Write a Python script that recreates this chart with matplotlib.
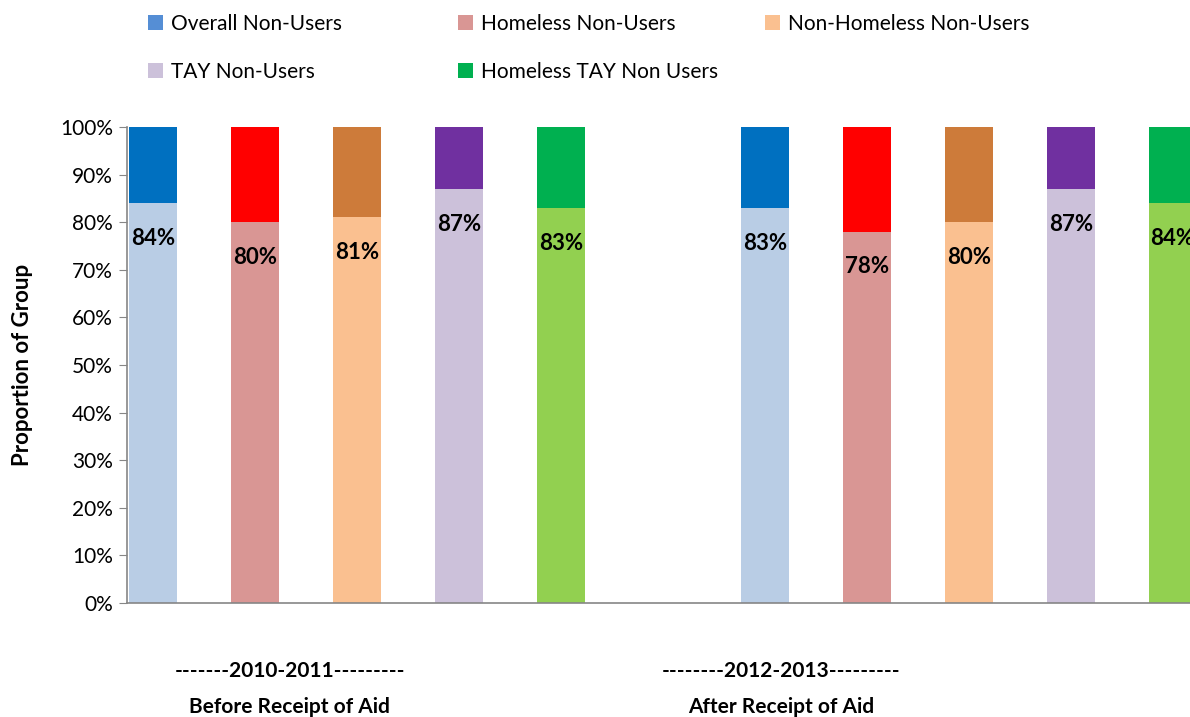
import numpy as np
import matplotlib.pyplot as plt
from matplotlib.patches import Patch

plt.rcParams['font.family'] = ['Lato', 'DejaVu Sans']

# Share of each group that were non-users, per period
groups = ['Overall Non-Users', 'Homeless Non-Users', 'Non-Homeless Non-Users',
          'TAY Non-Users', 'Homeless TAY Non Users']
before_aid = [84, 80, 81, 87, 83]
after_aid = [83, 78, 80, 87, 84]
period_labels = ['-------2010-2011---------\nBefore Receipt of Aid',
                 '--------2012-2013---------\nAfter Receipt of Aid']

light_colors = ['#B9CDE5', '#D99694', '#FAC090', '#CCC1DA', '#92D050']
dark_colors = ['#0070C0', '#FF0000', '#CD7B3A', '#7030A0', '#00B050']
legend_colors = ['#558ED5', '#D99694', '#FAC090', '#CCC1DA', '#00B050']

W, H = 1190, 717
fig = plt.figure(figsize=(W / 100, H / 100), dpi=100)
ax = fig.add_axes([127 / W, 1 - 603 / H, 1 - 127 / W, (603 - 127) / H])

width = 0.47
for p, vals in enumerate([before_aid, after_aid]):
    for i, v in enumerate(vals):
        x = p * 6 + i
        ax.bar(x, v, width, color=light_colors[i], edgecolor='none')
        ax.bar(x, 100 - v, width, bottom=v, color=dark_colors[i], edgecolor='none')
        ax.text(x, v - 7.4, f'{v}%', ha='center', va='center',
                fontsize=16, fontweight='bold', color='black')

ax.set_xlim(-0.255, 10.17)
ax.set_ylim(0, 100)
ax.set_yticks(np.arange(0, 101, 10))
ax.set_yticklabels([f'{t}%' for t in range(0, 101, 10)], fontsize=15)
ax.set_xticks([])
ax.tick_params(axis='y', direction='out', length=6, color='#868686', pad=4)
for s in ['top', 'right']:
    ax.spines[s].set_visible(False)
for s in ['left', 'bottom']:
    ax.spines[s].set_color('#868686')
    ax.spines[s].set_linewidth(1.2)
ax.set_ylabel('Proportion of Group', fontsize=16, fontweight='bold')
ax.yaxis.set_label_coords(-0.088, 0.5)

# period captions under the axis
for xc, lbl in zip([1.34, 6.16], period_labels):
    ax.text(xc, -12.2, lbl, ha='center', va='top', fontsize=15,
            fontweight='bold', linespacing=2.0, clip_on=False)

# legend entries laid out row by row
legend_pos = [(148, 24), (458, 24), (765, 24), (148, 72), (458, 72)]
for (lx, ly), name, c in zip(legend_pos, groups, legend_colors):
    fig.legend([Patch(facecolor=c, edgecolor='none')], [name], loc='center left',
               bbox_to_anchor=(lx / W, 1 - ly / H), frameon=False, fontsize=15,
               handlelength=0.7, handleheight=0.7, handletextpad=0.4,
               borderpad=0, borderaxespad=0)

fig.savefig('out.png', dpi=100)
